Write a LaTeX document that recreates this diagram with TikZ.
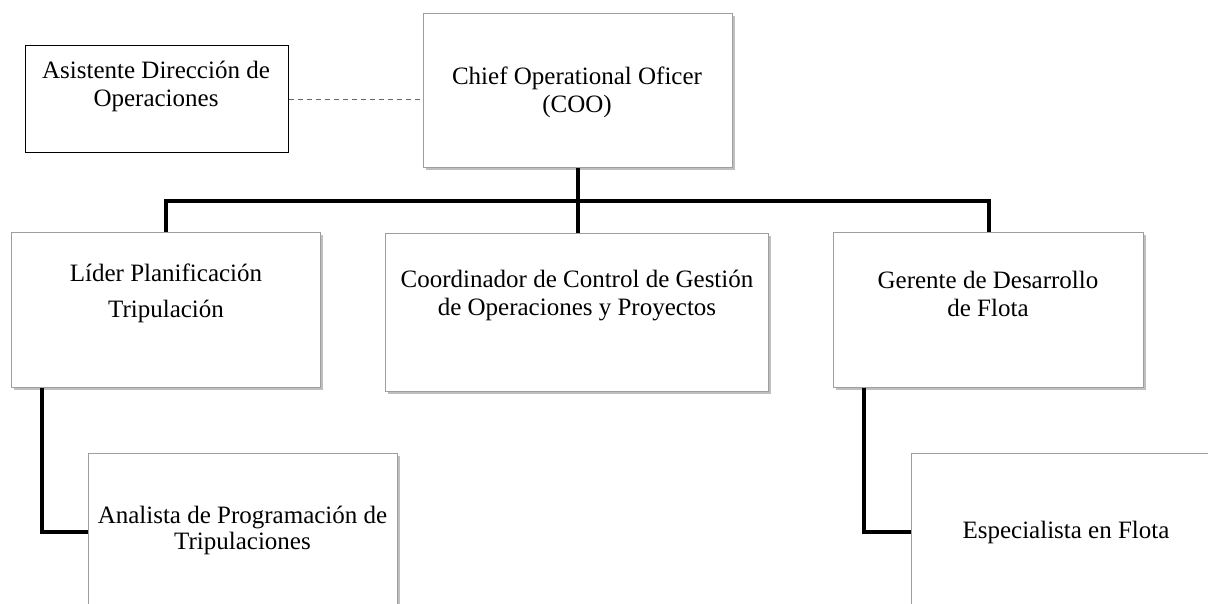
\documentclass[tikz,border=0pt]{standalone}
\usepackage{fontspec}
\setmainfont{Liberation Serif}
\usetikzlibrary{shadows,calc}

\tikzset{
  box/.style={draw=black!38, line width=1pt, fill=white, rectangle,
    inner sep=0pt, anchor=north west,
    drop shadow={shadow xshift=2pt, shadow yshift=-2.5pt, fill=black, opacity=0.25}},
  plainbox/.style={draw=black, line width=0.9pt, fill=white, rectangle,
    inner sep=0pt, anchor=north west},
  label text/.style={align=center, inner sep=0pt, font=\fontsize{25}{28}\selectfont},
  conn/.style={line width=4pt, black, line join=miter},
  dotted link/.style={draw=black!60, line width=0.8pt, dash pattern=on 5pt off 4pt},
}

\begin{document}
\begin{tikzpicture}[x=1pt, y=-1pt]
  \useasboundingbox (0,0) rectangle (1208,604);
  \clip (0,0) rectangle (1208,604);

  % top level and assistant
  \node[box, minimum width=309pt, minimum height=154pt] (coo) at (423,13) {};
  \node[plainbox, minimum width=263pt, minimum height=107pt] (asis) at (25,45) {};

  % second row
  \node[box, minimum width=309pt, minimum height=155pt] (lider) at (11,232) {};
  \node[box, minimum width=383pt, minimum height=158pt] (coord) at (385,233) {};
  \node[box, minimum width=310pt, minimum height=155pt] (gerente) at (833,232) {};

  % third row
  \node[box, minimum width=309pt, minimum height=156pt] (analista) at (88,453) {};
  \node[box, minimum width=310pt, minimum height=156pt] (espec) at (911,453) {};

  % labels
  \node[label text] (coo-t) at (577,92) {Chief Operational Oficer\\(COO)};
  \node[label text] (asis-t) at (156,86) {Asistente Dirección de\\Operaciones};
  \node[label text, font=\fontsize{25}{36}\selectfont] (lider-t) at (166,293) {Líder Planificación\\Tripulación};
  \node[label text] (coord-t) at (577,296) {Coordinador de Control de Gestión\\de Operaciones y Proyectos};
  \node[label text] (gerente-t) at (988,293.5) {Gerente de Desarrollo\\de Flota};
  \node[label text, font=\fontsize{25}{26}\selectfont] (analista-t) at (242.5,530.5) {Analista de Programación de\\Tripulaciones};
  \node[label text] (espec-t) at (1066,532) {Especialista en Flota};

  % connectors
  \coordinate (bus) at ($(coo.south)+(0,33)$);
  \draw[conn] (coo.south) -- (coo.south |- coord.north);
  \draw[conn] (lider.north) |- (bus) -| (gerente.north);
  \draw[conn] ($(lider.south west)+(31,0)$) |- (analista.west);
  \draw[conn] ($(gerente.south west)+(31,0)$) |- (espec.west);
  \draw[dotted link] (asis.east) -- (asis.east -| coo.west);
\end{tikzpicture}
\end{document}
